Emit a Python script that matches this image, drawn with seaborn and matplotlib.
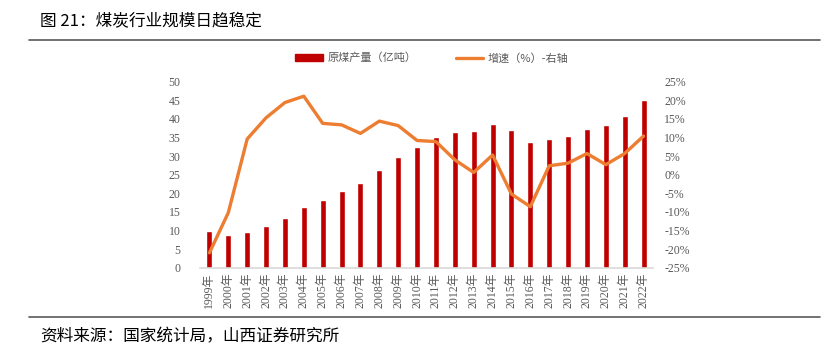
import numpy as np
import pandas as pd
import seaborn as sns
from matplotlib import pyplot as plt
from matplotlib.lines import Line2D
from matplotlib.patches import Patch
from matplotlib.ticker import FuncFormatter, MultipleLocator

years = [f"{y}年" for y in range(1999, 2023)]
output = [9.9, 8.8, 9.7, 11.2, 13.3, 16.2, 18.2, 20.6, 22.9, 26.3, 29.7, 32.4,
          35.1, 36.6, 36.7, 38.6, 36.9, 33.7, 34.5, 35.4, 37.4, 38.4, 40.7, 45.0]
growth = [-21.0, -10.2, 9.6, 15.3, 19.4, 21.1, 13.8, 13.4, 11.1, 14.4, 13.2, 9.2,
          8.9, 4.0, 0.6, 5.3, -5.2, -8.6, 2.4, 3.1, 5.7, 2.7, 5.7, 10.4]

bar_label = "原煤产量（亿吨）"
line_label = "增速（%）-右轴"

df = pd.DataFrame({"year": years, "output": output, "growth": growth})
df["pos"] = np.arange(len(df))

sns.set_style("white")
cjk = ["Noto Sans CJK SC", "DejaVu Sans"]
num = ["Liberation Serif", "Noto Sans CJK SC"]
plt.rcParams["font.family"] = cjk

grey = "#595959"
red = "#C00000"
orange = "#ED7D31"

fig = plt.figure(figsize=(8.39, 3.54), dpi=100)
ax = fig.add_axes([200 / 839, 1 - 267.7 / 354, 453 / 839, 186 / 354])

sns.barplot(data=df, x="year", y="output", color=red, width=0.32,
            saturation=1, ax=ax)
ax.set_ylim(0, 50)
ax.yaxis.set_major_locator(MultipleLocator(5))
ax.set_xlim(-0.5, len(df) - 0.5)
ax.set_xlabel("")
ax.set_ylabel("")
for s in ["top", "right", "left"]:
    ax.spines[s].set_visible(False)
ax.spines["bottom"].set_color("#D9D9D9")
ax.spines["bottom"].set_linewidth(1.2)
ax.tick_params(axis="both", length=0, colors=grey, labelsize=8.5)
ax.tick_params(axis="y", pad=14)
for lab in ax.get_yticklabels():
    lab.set_family(num)
ax.set_xticks(df["pos"])
ax.set_xticklabels(years, rotation=90, family=num, fontsize=8.5, color=grey)

ax2 = ax.twinx()
sns.lineplot(data=df, x="pos", y="growth", color=orange, linewidth=2.4, ax=ax2)
ax2.set_ylim(-25, 25)
ax2.yaxis.set_major_locator(MultipleLocator(5))
ax2.yaxis.set_major_formatter(FuncFormatter(lambda v, p: f"{v:.0f}%"))
ax2.set_ylabel("")
for s in ["top", "right", "left", "bottom"]:
    ax2.spines[s].set_visible(False)
ax2.tick_params(axis="y", length=0, colors=grey, labelsize=8.5, pad=8)
for lab in ax2.get_yticklabels():
    lab.set_family(num)

handles = [Patch(color=red), Line2D([0], [0], color=orange, lw=2.4)]
fig.legend(handles, [bar_label, line_label], loc="center",
           bbox_to_anchor=(432 / 839, 1 - 58 / 354), ncol=2, frameon=False,
           fontsize=8, labelcolor=grey, handlelength=2.5, handleheight=0.5,
           columnspacing=3.5, handletextpad=0.4)

fig.text(40 / 839, 1 - 22 / 354, "图 21：煤炭行业规模日趋稳定", fontsize=12,
         va="center", ha="left", color="#000000")
fig.text(40 / 839, 1 - 337 / 354, "资料来源：国家统计局，山西证券研究所", fontsize=12,
         va="center", ha="left", color="#000000")
fig.add_artist(Line2D([29 / 839, 820 / 839], [1 - 40 / 354, 1 - 40 / 354],
                      color="#595959", lw=1.2))
fig.add_artist(Line2D([29 / 839, 820 / 839], [1 - 317 / 354, 1 - 317 / 354],
                      color="#595959", lw=1.2))

fig.savefig("out.png", dpi=100)
